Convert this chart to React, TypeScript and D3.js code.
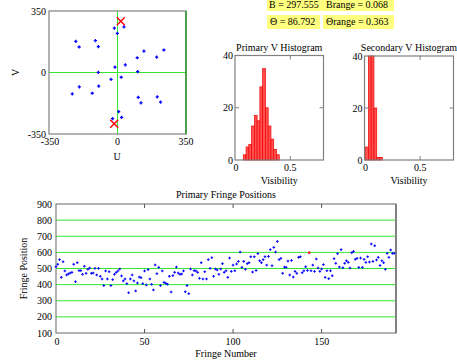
import React from 'react';
import * as d3 from 'd3';

// ---------- DATA ----------
const uvU = [-16, 33, -1, -213, -113, -196, -98, 135, 237, 101, 200, 40, -13, -98, 103, 19, -33, -96, -195, -231, -129, 106, 203, 120, 220, 6, 21, -25];
const uvV = [253, 260, 223, 177, 181, 145, 147, 122, 128, 84, 88, 43, 31, 1, 5, -27, -39, -77, -82, -122, -118, -141, -139, -173, -169, -223, -255, -262];
const crossU = [17, -17];
const crossV = [292, -292];
const uvTicks = [-350, 0, 350];

const infoB = 'B = 297.555';
const infoBrange = 'Brange = 0.068';
const infoTheta = 'Θ = 86.792';
const infoThetaRange = 'Θrange = 0.363';

const binWidth = 0.025;
const primaryStart = 0.075;
const primaryCounts = [2, 5, 6, 13, 17, 15, 28, 35, 20, 13, 8, 4, 2];
const secondaryStart = 0.01;
const secondaryCounts = [5, 62, 58, 20, 1, 1];
const histXTicks = [0, 0.5];
const histYTicks = [0, 20, 40];

const fringePositions = [
  511, 526, 555, 445, 542, 485, 460, 466, 472, 476,
  526, 418, 536, 487, 487, 464, 514, 470, 495, 503,
  470, 472, 501, 460, 501, 452, 435, 394, 485, 435,
  480, 394, 431, 464, 476, 485, 497, 454, 423, 435,
  406, 350, 435, 460, 423, 361, 410, 447, 443, 406,
  485, 398, 493, 435, 402, 367, 522, 468, 507, 394,
  485, 414, 408, 402, 452, 354, 456, 476, 509, 472,
  464, 466, 485, 356, 394, 344, 497, 460, 487, 485,
  476, 439, 536, 435, 480, 435, 555, 501, 567, 452,
  497, 491, 464, 497, 530, 476,
  486, 445, 565, 482, 521, 486, 528, 544, 602, 507,
  544, 495, 530, 536, 573, 478, 573, 488, 592, 548,
  536, 555, 573, 521, 575, 617, 517, 631, 602, 668,
  555, 563, 470, 509, 507, 546, 460, 550, 447, 482,
  470, 569, 573, 474, 486, 511, 488, 598, 486, 521,
  482, 559, 503,
  482, 497, 524, 445, 486, 437, 486, 455, 561, 532,
  592, 509, 617, 505, 532, 548, 538, 503, 598, 606,
  557, 563, 507, 565, 507, 557, 538, 573, 540, 652,
  544, 641, 553, 569, 519, 548, 536, 495, 594, 569,
  615, 594, 594,
];
const highlightedFringe = 143;
const fringeXTicks = [0, 50, 100, 150];
const fringeYTicks = [100, 200, 300, 400, 500, 600, 700, 800, 900];
const fringeGrid = [200, 300, 400, 500, 600, 700, 800];

// ---------- STYLE ----------
const FONT = '"Liberation Serif", "Times New Roman", serif';
const FS = 10;
const FRAME = '#808080';
const GREEN = '#33e633';
const BLUE = '#0000ff';
const BAR_FILL = '#ff5050';
const BAR_STROKE = '#ee0000';
const YELLOW = '#ffff80';

const plus = (x: number, y: number, s: number) =>
  `M${x - s},${y}H${x + s}M${x},${y - s}V${y + s}`;

function Histogram({ x0, y0, x1, y1, start, counts, title, showZeroTick }: any) {
  const xs = d3.scaleLinear().domain([0, 0.8]).range([x0, x1]);
  const ys = d3.scaleLinear().domain([0, 40]).range([y1, y0]).clamp(true);
  const cx = (x0 + x1) / 2;
  return (
    <g>
      <text x={cx} y={y0 - 5} textAnchor="middle" fontSize={FS}>{title}</text>
      {counts.map((c: number, i: number) => {
        const a = start + i * binWidth;
        const xa = xs(a), xb = xs(a + binWidth);
        return (
          <rect key={i} x={xa} y={ys(c)} width={xb - xa} height={y1 - ys(c)}
            fill={BAR_FILL} stroke={BAR_STROKE} strokeWidth={0.7} />
        );
      })}
      <rect x={x0} y={y0} width={x1 - x0} height={y1 - y0} fill="none" stroke={FRAME} strokeWidth={1.2} />
      {histXTicks.filter(t => t > 0).map(t => (
        <g key={t}>
          <line x1={xs(t)} x2={xs(t)} y1={y0} y2={y0 + 4} stroke={FRAME} />
          <line x1={xs(t)} x2={xs(t)} y1={y1} y2={y1 - 4} stroke={FRAME} />
        </g>
      ))}
      {[20].map(t => (
        <g key={t}>
          <line x1={x0} x2={x0 + 4} y1={ys(t)} y2={ys(t)} stroke={FRAME} />
          <line x1={x1} x2={x1 - 4} y1={ys(t)} y2={ys(t)} stroke={FRAME} />
        </g>
      ))}
      {histYTicks.map(t => (
        <text key={t} x={x0 - 2} y={ys(t) + 3.5} textAnchor="end" fontSize={FS}>{t}</text>
      ))}
      {histXTicks.map(t => (
        <text key={t} x={xs(t) + (t === 0 ? 1 : 0)} y={y1 + 11} textAnchor="middle" fontSize={FS}>{t}</text>
      ))}
      <text x={(x0 + x1) / 2 + (showZeroTick ? 0 : 0)} y={y1 + 24} textAnchor="middle" fontSize={FS}>Visibility</text>
    </g>
  );
}

export default function App() {
  // UV plot
  const uL = 49, uR = 186, uT = 11, uB = 134;
  const us = d3.scaleLinear().domain([-350, 350]).range([uL, uR]);
  const vs = d3.scaleLinear().domain([-350, 350]).range([uB, uT]);

  // Fringe plot
  const fL = 56, fR = 396, fT = 204, fB = 333;
  const fx = d3.scaleLinear().domain([0, 192]).range([fL, fR]);
  const fy = d3.scaleLinear().domain([100, 900]).range([fB, fT]);

  return (
    <svg width={457} height={362} style={{ position: 'absolute', left: 0, top: 0, background: '#fff' }}
      fontFamily={FONT} fill="#000">
      <rect x={0} y={0} width={457} height={362} fill="#fff" />

      {/* UV plot */}
      <line x1={us(0)} x2={us(0)} y1={uT} y2={uB} stroke={GREEN} />
      <line x1={uL} x2={uR} y1={vs(0)} y2={vs(0)} stroke={GREEN} />
      <rect x={uL} y={uT} width={uR - uL} height={uB - uT} fill="none" stroke={FRAME} strokeWidth={1.2} />
      <line x1={us(350)} x2={us(350)} y1={uT} y2={uB} stroke="#2a9a2a" strokeWidth={1.5} />
      <path d={uvU.map((u, i) => plus(us(u), vs(uvV[i]), 1.6)).join('')} stroke={BLUE} strokeWidth={1.3} fill="none" />
      <path d={crossU.map((u, i) => {
        const x = us(u), y = vs(crossV[i]), s = 4;
        return `M${x - s},${y - s}L${x + s},${y + s}M${x - s},${y + s}L${x + s},${y - s}`;
      }).join('')} stroke="#ff0000" strokeWidth={1.4} fill="none" />
      {uvTicks.map(t => (
        <text key={'v' + t} x={uL - 3} y={vs(t) + 3.5} textAnchor="end" fontSize={FS}>{t}</text>
      ))}
      {uvTicks.map(t => (
        <text key={'u' + t} x={us(t) + (t === -350 ? 1 : 0)} y={uB + 11} textAnchor="middle" fontSize={FS}>{t}</text>
      ))}
      <text x={117} y={160} textAnchor="middle" fontSize={FS}>U</text>
      <text transform={`translate(19,${(uT + uB) / 2}) rotate(-90)`} textAnchor="middle" fontSize={FS}>V</text>

      {/* Info boxes */}
      <rect x={267} y={-2} width={127} height={13} fill={YELLOW} />
      <rect x={267} y={15} width={53} height={14} fill={YELLOW} />
      <rect x={323} y={15} width={71} height={14} fill={YELLOW} />
      <text x={269} y={8} fontSize={FS}>{infoB}</text>
      <text x={326} y={8} fontSize={FS}>{infoBrange}</text>
      <text x={270} y={25} fontSize={FS}>{infoTheta}</text>
      <text x={326} y={25} fontSize={FS}>{infoThetaRange}</text>

      {/* Histograms */}
      <Histogram x0={235} y0={55.5} x1={323.5} y1={160} start={primaryStart} counts={primaryCounts} title="Primary V Histogram" />
      <Histogram x0={364.5} y0={56} x1={453.5} y1={160} start={secondaryStart} counts={secondaryCounts} title="Secondary V Histogram" />

      {/* Fringe plot */}
      <text x={(fL + fR) / 2} y={fT - 6} textAnchor="middle" fontSize={FS}>Primary Fringe Positions</text>
      {fringeGrid.map(g => (
        <line key={g} x1={fL} x2={fR} y1={fy(g)} y2={fy(g)} stroke={GREEN} strokeWidth={1} />
      ))}
      <rect x={fL} y={fT} width={fR - fL} height={fB - fT} fill="none" stroke={FRAME} strokeWidth={1.2} />
      <line x1={fR} x2={fR} y1={fT} y2={fB} stroke={FRAME} strokeWidth={2} />
      {fringeXTicks.filter(t => t > 0).map(t => (
        <g key={t}>
          <line x1={fx(t)} x2={fx(t)} y1={fT} y2={fT + 4} stroke="#555" />
          <line x1={fx(t)} x2={fx(t)} y1={fB} y2={fB - 4} stroke="#555" />
        </g>
      ))}
      <path d={fringePositions.map((v, i) => i === highlightedFringe ? '' : plus(fx(i), fy(v), 1.3)).join('')}
        stroke={BLUE} strokeWidth={1} fill="none" />
      <rect x={fx(highlightedFringe) - 1.2} y={fy(fringePositions[highlightedFringe]) - 1.2} width={2.4} height={2.4} fill="#ff2020" />
      {fringeYTicks.map(t => (
        <text key={t} x={fL - 4} y={fy(t) + 3.5} textAnchor="end" fontSize={FS}>{t}</text>
      ))}
      {fringeXTicks.map(t => (
        <text key={t} x={fx(t) + (t === 0 ? 1 : 0)} y={fB + 12} textAnchor="middle" fontSize={FS}>{t}</text>
      ))}
      <text x={(fL + fR) / 2} y={357} textAnchor="middle" fontSize={FS}>Fringe Number</text>
      <text transform={`translate(27,${(fT + fB) / 2}) rotate(-90)`} textAnchor="middle" fontSize={FS}>Fringe Position</text>
    </svg>
  );
}
